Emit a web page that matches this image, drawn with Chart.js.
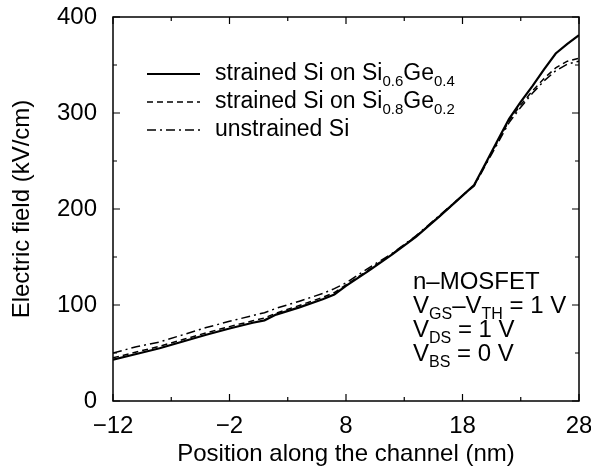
<!DOCTYPE html>
<html>
<head>
<meta charset="utf-8">
<title>Electric field along the channel</title>
<script src="https://cdn.jsdelivr.net/npm/chart.js@4.4.1/dist/chart.umd.min.js"></script>
<style>
  html, body { margin: 0; padding: 0; background: #fff; }
  #wrap { width: 591px; height: 470px; position: relative; }
</style>
</head>
<body>
<div id="wrap"><canvas id="fieldChart"></canvas></div>
<script>
// position along the channel (nm)
const positions = [-12, -10, -8, -6, -4, -2, 0, 1, 2, 4, 6, 7, 8, 10, 12, 14, 16, 18, 19, 20, 21, 22, 23, 24, 25, 26, 27, 28];
// electric field (kV/cm) for each device
const fieldSiGe04 = [43, 49, 55, 62, 69, 75.5, 81.5, 84, 90, 97.5, 106, 111, 120, 136, 153, 171, 192, 214, 225, 248, 271, 294, 311.5, 328, 345.5, 362, 372, 381];
const fieldSiGe02 = [45, 51, 57, 64, 71, 77.5, 83.5, 86.5, 91.5, 99.5, 108, 113, 121, 137, 153.5, 171.5, 192, 214, 225, 247, 270, 292, 308.5, 323, 336, 347, 354, 357];
const fieldUnstrained = [50, 56.5, 61.5, 69, 76.5, 83, 89, 92, 96.5, 104, 112, 117, 123, 139, 154, 172, 193, 214, 224, 246, 268, 290, 306, 320.5, 333.5, 344, 351, 354];

const seriesLabels = ['strained Si on Si_{0.6}Ge_{0.4}', 'strained Si on Si_{0.8}Ge_{0.2}', 'unstrained Si'];
const xTickValues = [-12, -2, 8, 18, 28];
const yTickValues = [0, 100, 200, 300, 400];
const noteLines = ['n–MOSFET', 'V_{GS}–V_{TH} = 1 V', 'V_{DS} = 1 V', 'V_{BS} = 0 V'];

const FONT = '"Liberation Sans", Arial, sans-serif';

function toPoints(ys) {
    return positions.map((x, i) => ({ x: x, y: ys[i] }));
}

// text with _{sub} parts
function drawRich(ctx, text, x, y, size) {
    let cx = x;
    text.split(/(_\{[^}]*\})/).forEach(part => {
        if (!part) return;
        if (part.startsWith('_{')) {
            const s = part.slice(2, -1);
            ctx.font = Math.round(size * 0.65) + 'px ' + FONT;
            ctx.fillText(s, cx, y + size * 0.34);
            cx += ctx.measureText(s).width;
        } else {
            ctx.font = size + 'px ' + FONT;
            ctx.fillText(part, cx, y);
            cx += ctx.measureText(part).width;
        }
    });
}

// frame, inward ticks, legend and the bias note
const framePlugin = {
    id: 'frame',
    afterDraw(chart) {
        const { ctx, chartArea: a, scales: { x, y } } = chart;
        ctx.save();
        ctx.strokeStyle = '#000';
        ctx.lineWidth = 1.5;
        ctx.strokeRect(a.left, a.top, a.right - a.left, a.bottom - a.top);

        ctx.lineWidth = 1.2;
        ctx.beginPath();
        for (let v = -12; v <= 28; v += 5) {
            const px = x.getPixelForValue(v);
            const len = (v + 12) % 10 === 0 ? 7 : 4;
            ctx.moveTo(px, a.bottom); ctx.lineTo(px, a.bottom - len);
            ctx.moveTo(px, a.top); ctx.lineTo(px, a.top + len);
        }
        for (let v = 0; v <= 400; v += 50) {
            const py = y.getPixelForValue(v);
            const len = v % 100 === 0 ? 7 : 4;
            ctx.moveTo(a.left, py); ctx.lineTo(a.left + len, py);
            ctx.moveTo(a.right, py); ctx.lineTo(a.right - len, py);
        }
        ctx.stroke();

        // legend
        ctx.fillStyle = '#000';
        ctx.textBaseline = 'middle';
        ctx.textAlign = 'left';
        chart.data.datasets.forEach((ds, i) => {
            const rowY = a.top + 57 + i * 28;
            ctx.setLineDash(ds.borderDash || []);
            ctx.lineWidth = ds.borderWidth;
            ctx.beginPath();
            ctx.moveTo(a.left + 34, rowY);
            ctx.lineTo(a.left + 87, rowY);
            ctx.stroke();
            ctx.setLineDash([]);
            drawRich(ctx, ds.label, a.left + 102, rowY, 23);
        });

        // device / bias note
        noteLines.forEach((line, i) => {
            drawRich(ctx, line, a.left + 300, a.top + 265 + i * 24, 24);
        });
        ctx.restore();
    }
};

new Chart(document.getElementById('fieldChart').getContext('2d'), {
    type: 'line',
    data: {
        datasets: [
            {
                label: seriesLabels[0],
                data: toPoints(fieldSiGe04),
                borderColor: '#000',
                borderWidth: 2.2,
                pointRadius: 0,
                fill: false
            },
            {
                label: seriesLabels[1],
                data: toPoints(fieldSiGe02),
                borderColor: '#000',
                borderWidth: 1.5,
                borderDash: [6, 4],
                pointRadius: 0,
                fill: false
            },
            {
                label: seriesLabels[2],
                data: toPoints(fieldUnstrained),
                borderColor: '#000',
                borderWidth: 1.5,
                borderDash: [9, 4, 2, 4],
                pointRadius: 0,
                fill: false
            }
        ]
    },
    options: {
        responsive: true,
        maintainAspectRatio: false,
        animation: false,
        layout: { padding: 0 },
        plugins: {
            legend: { display: false },
            tooltip: { enabled: false }
        },
        scales: {
            x: {
                type: 'linear',
                min: -12,
                max: 28,
                afterBuildTicks: (scale) => { scale.ticks = xTickValues.map(v => ({ value: v })); },
                afterFit: (scale) => {
                    scale.height = 69;
                    scale.paddingLeft = 0;
                    scale.paddingRight = 12;
                },
                grid: { display: false, drawTicks: false },
                border: { display: false },
                ticks: {
                    color: '#000',
                    padding: 11,
                    maxRotation: 0,
                    font: { family: FONT, size: 24 },
                    callback: (v) => String(v).replace('-', '−')
                },
                title: {
                    display: true,
                    text: 'Position along the channel (nm)',
                    color: '#000',
                    font: { family: FONT, size: 24 },
                    padding: { top: 0, bottom: 1 }
                }
            },
            y: {
                min: 0,
                max: 400,
                afterBuildTicks: (scale) => { scale.ticks = yTickValues.map(v => ({ value: v })); },
                afterFit: (scale) => {
                    scale.width = 113;
                    scale.paddingTop = 17;
                    scale.paddingBottom = 0;
                },
                grid: { display: false, drawTicks: false },
                border: { display: false },
                ticks: {
                    color: '#000',
                    padding: 16,
                    font: { family: FONT, size: 24 }
                },
                title: {
                    display: true,
                    text: 'Electric field (kV/cm)',
                    color: '#000',
                    font: { family: FONT, size: 24 },
                    padding: { top: 8, bottom: 0 }
                }
            }
        }
    },
    plugins: [framePlugin]
});
</script>
</body>
</html>
